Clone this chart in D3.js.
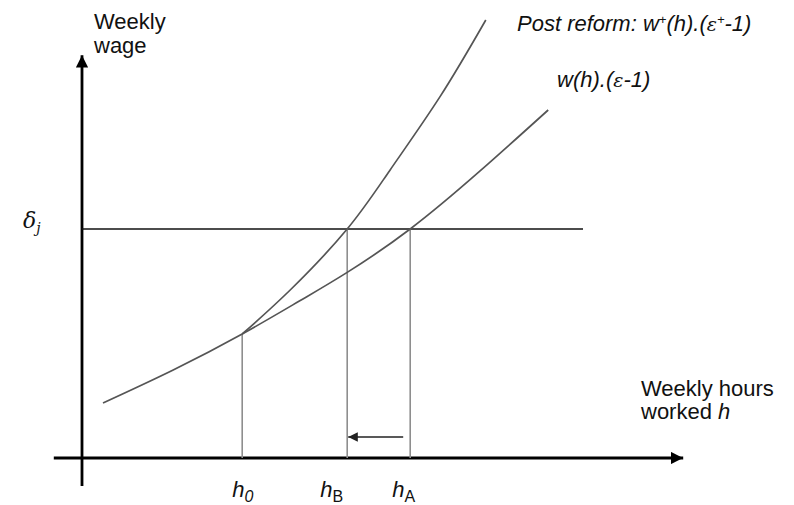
<!DOCTYPE html>
<html>
<head>
<meta charset="utf-8">
<script src="https://cdn.jsdelivr.net/npm/d3@7"></script>
<style>
  html, body { margin: 0; padding: 0; background: #fff; }
  svg { display: block; }
  text { font-family: "Liberation Sans", Arial, sans-serif; fill: #111; }
</style>
</head>
<body>
<svg id="chart" width="794" height="505"></svg>
<script>
// Weekly wage schedule before the reform: w(h).(ε-1)
const baseHours = [3.5, 15.2, 26.7, 36.3, 44.2, 54.7, 66.3, 77.7];
const baseWage  = [13.75, 22, 31, 39.3, 46.4, 57.25, 71.7, 87];

// Schedule after the reform: w+(h).(ε+-1), branching off at h0
const postHours = [26.7, 34.7, 44.2, 51.3, 59.7, 67.3];
const postWage  = [31, 42, 57.25, 71.9, 90.4, 109.5];

// Reservation level δj and the marked hours
const delta = 57.25;
const deltaEnd = 83.5;
const markNames = ["0", "B", "A"];
const markHours = [26.7, 44.2, 54.7];
const markWage  = [31, 57.25, 57.25];

const svg = d3.select("#chart");
const x = d3.scaleLinear().domain([0, 100]).range([82, 682]);
const y = d3.scaleLinear().domain([0, 100]).range([458, 58]);

// arrow heads
const defs = svg.append("defs");
defs.append("marker").attr("id", "axisHead")
  .attr("viewBox", "0 0 10 10").attr("refX", 10).attr("refY", 5)
  .attr("markerWidth", 4.4).attr("markerHeight", 4.4).attr("markerUnits", "strokeWidth")
  .attr("orient", "auto")
  .append("path").attr("d", "M0,0 L10,5 L0,10 z").attr("fill", "#000");
defs.append("marker").attr("id", "smallHead")
  .attr("viewBox", "0 0 10 10").attr("refX", 10).attr("refY", 5)
  .attr("markerWidth", 6).attr("markerHeight", 6).attr("markerUnits", "strokeWidth")
  .attr("orient", "auto")
  .append("path").attr("d", "M0,0 L10,5 L0,10 z").attr("fill", "#222");

// axes
svg.append("line")
  .attr("x1", x(0)).attr("y1", y(-7)).attr("x2", x(0)).attr("y2", y(100.7))
  .attr("stroke", "#000").attr("stroke-width", 2.8).attr("marker-end", "url(#axisHead)");
svg.append("line")
  .attr("x1", x(-4.7)).attr("y1", y(0)).attr("x2", x(100.2)).attr("y2", y(0))
  .attr("stroke", "#000").attr("stroke-width", 2.8).attr("marker-end", "url(#axisHead)");

// δj level
svg.append("line")
  .attr("x1", x(0)).attr("y1", y(delta)).attr("x2", x(deltaEnd)).attr("y2", y(delta))
  .attr("stroke", "#111").attr("stroke-width", 1.5);

// vertical drop lines at h0, hB, hA
svg.selectAll("line.drop").data(markHours).join("line").attr("class", "drop")
  .attr("x1", d => x(d)).attr("x2", d => x(d))
  .attr("y1", (d, i) => y(markWage[i])).attr("y2", y(0))
  .attr("stroke", "#8e8e8e").attr("stroke-width", 1.6);

// wage curves
const line = d3.line().x(d => x(d[0])).y(d => y(d[1])).curve(d3.curveNatural);
const basePts = d3.zip(baseHours, baseWage);
const postPts = d3.zip(postHours, postWage);
svg.append("path").datum(basePts).attr("d", line)
  .attr("fill", "none").attr("stroke", "#555").attr("stroke-width", 1.7);
svg.append("path").datum(postPts).attr("d", line)
  .attr("fill", "none").attr("stroke", "#555").attr("stroke-width", 1.7);

// shift from hA to hB
svg.append("line")
  .attr("x1", x(markHours[2]) - 7).attr("x2", x(markHours[1]) + 1)
  .attr("y1", y(5.25)).attr("y2", y(5.25))
  .attr("stroke", "#222").attr("stroke-width", 1.6).attr("marker-end", "url(#smallHead)");

// axis titles
const yTitle = svg.append("text").attr("x", 94).attr("y", 29).style("font-size", "22px");
yTitle.append("tspan").text("Weekly");
yTitle.append("tspan").attr("x", 94).attr("dy", 24).text("wage");

const xTitle = svg.append("text").attr("x", 641).attr("y", 396).style("font-size", "22px");
xTitle.append("tspan").text("Weekly hours");
xTitle.append("tspan").attr("x", 641).attr("dy", 23).text("worked ");
xTitle.append("tspan").style("font-style", "italic").text("h");

// δj label
const dl = svg.append("text").attr("x", 23).attr("y", 228).style("font-size", "22px")
  .style("font-style", "italic").style("font-family", "'DejaVu Serif', serif");
dl.append("tspan").text("δ");
dl.append("tspan").attr("dy", 5).style("font-size", "14px").text("j");

// curve labels
const pl = svg.append("text").attr("x", 517).attr("y", 31).style("font-size", "22px").style("font-style", "italic");
pl.append("tspan").text("Post reform: w");
pl.append("tspan").attr("dy", -7).style("font-size", "13px").text("+");
pl.append("tspan").attr("dy", 7).text("(h).(");
pl.append("tspan").style("font-family", "'DejaVu Serif', serif").style("font-size", "19px").text("ε");
pl.append("tspan").attr("dy", -7).style("font-size", "13px").text("+");
pl.append("tspan").attr("dy", 7).text("-1)");

const bl = svg.append("text").attr("x", 557).attr("y", 87).style("font-size", "22px").style("font-style", "italic");
bl.append("tspan").text("w(h).(");
bl.append("tspan").style("font-family", "'DejaVu Serif', serif").style("font-size", "19px").text("ε");
bl.append("tspan").text("-1)");

// hour labels under the axis
const labelShift = [-10, -27, -18];
const hl = svg.selectAll("text.hlab").data(markHours).join("text").attr("class", "hlab")
  .attr("x", (d, i) => x(d) + labelShift[i]).attr("y", 497).style("font-size", "22px");
hl.append("tspan").style("font-style", "italic").text("h");
hl.append("tspan").attr("dy", 5).style("font-size", "16px")
  .style("font-style", (d, i) => i === 0 ? "italic" : "normal")
  .text((d, i) => markNames[i]);
</script>
</body>
</html>
